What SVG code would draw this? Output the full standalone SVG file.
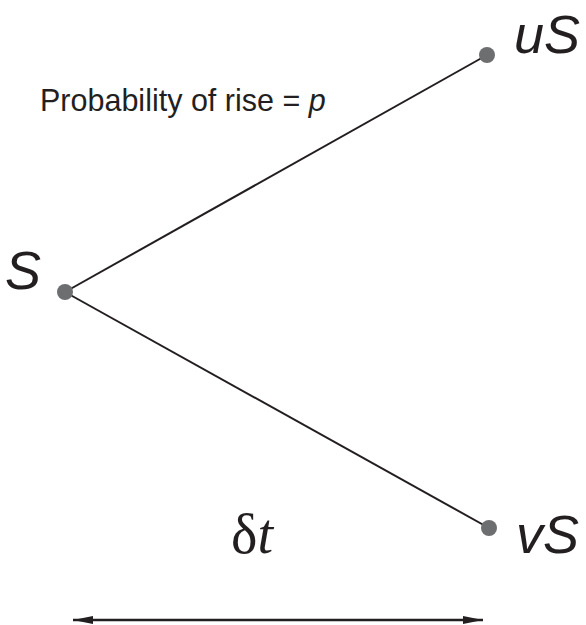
<svg xmlns="http://www.w3.org/2000/svg" width="586" height="625" viewBox="0 0 586 625">
<style>
.edge{stroke:#231f20;stroke-width:2;fill:none}
.dot{fill:#6d6e70}
.lbl{font-family:"Liberation Sans",Arial,sans-serif;font-style:italic;font-size:54px;fill:#231f20}
.txt{font-family:"Liberation Sans",Arial,sans-serif;font-size:30.5px;fill:#231f20}
</style>
<defs>
<marker id="ah" viewBox="0 0 20 8" refX="20" refY="4" markerWidth="20" markerHeight="8" markerUnits="userSpaceOnUse" orient="auto-start-reverse">
<path d="M0,0 L20,4 L0,8 Z" fill="#231f20"/>
</marker>
</defs>
<g id="connectors">
<line class="edge" x1="65" y1="292" x2="487" y2="55"/>
<line class="edge" x1="65" y1="292" x2="489" y2="528"/>
<line x1="73" y1="620" x2="483" y2="620" stroke="#231f20" stroke-width="2.5" marker-start="url(#ah)" marker-end="url(#ah)"/>
</g>
<g id="node-S">
<circle class="dot" cx="65" cy="292" r="8"/>
<text class="lbl" x="5" y="289">S</text>
</g>
<g id="node-uS">
<circle class="dot" cx="487" cy="55" r="8"/>
<text class="lbl" x="514" y="53">uS</text>
</g>
<g id="node-vS">
<circle class="dot" cx="489" cy="528" r="8"/>
<text class="lbl" x="516" y="553">vS</text>
</g>
<text class="txt" x="40" y="111">Probability of rise = <tspan font-style="italic">p</tspan></text>
<text x="231" y="553" font-family="'Liberation Serif','Times New Roman',serif" font-size="56" fill="#231f20">δ<tspan font-style="italic">t</tspan></text>
</svg>
